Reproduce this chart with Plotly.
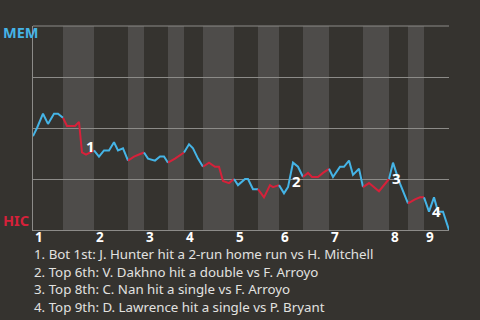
import plotly.graph_objects as go

# Game progress (x) and MEM win probability in % (y)
play_x = [0, 4, 10, 15, 21, 25, 30,
          34, 42, 46, 49, 53, 61,
          66, 71, 76, 81, 85, 90, 95,
          101, 106, 111,
          115, 122, 127, 131, 135,
          142, 151,
          156, 160, 165, 170,
          176, 182, 186, 190, 196, 201,
          205, 212, 215, 220, 225,
          231, 237, 240, 246,
          251, 255, 260, 265, 270,
          275, 279, 285, 290, 296,
          300, 307, 311, 316, 320, 326, 330,
          336, 346, 356,
          360, 366, 375,
          382, 387, 391,
          396, 401, 405, 410, 416]
mem_wp = [46, 50, 57, 52, 57, 57, 55,
          51, 51, 53, 38, 37, 39,
          36, 39, 39, 43, 39, 40, 34,
          36, 37, 38,
          35, 34, 36, 36, 33,
          35, 38,
          42, 40, 35, 31,
          33, 31, 31, 24, 23, 25,
          22, 25, 25, 20, 20,
          16, 22, 21, 22,
          18, 21, 33, 31, 26,
          28, 26, 26, 28, 30,
          26, 31, 31, 34, 27, 30, 21,
          23, 19, 25,
          33, 24, 13,
          15, 16, 16,
          9, 16, 9, 9, 0]

# half-inning boundaries (top, bottom alternating)
half_bounds = [0, 30, 61, 95, 111, 135, 151, 170, 201, 225, 246, 270, 296, 330, 356, 375, 391, 416]
inning_labels = ["1", "2", "3", "4", "5", "6", "7", "8", "9"]

# key events: (x, y, label)
event_x = [53, 260, 360, 401]
event_y = [37, 33, 33, 16]
event_labels = ["1", "2", "3", "4"]
event_xshift = [4, 3, 3, 2]
event_yshift = [9, -18, -15, -14]

notes = [
    "1. Bot 1st: J. Hunter hit a 2-run home run vs H. Mitchell",
    "2. Top 6th: V. Dakhno hit a double vs F. Arroyo",
    "3. Top 8th: C. Nan hit a single vs F. Arroyo",
    "4. Top 9th: D. Lawrence hit a single vs P. Bryant",
]

BG = "#35332f"
BAND = "#4e4c4a"
GRID = "#8c8b88"
BLUE = "#45b4e6"
RED = "#d6213a"

fig = go.Figure()

shapes = []
for i in range(len(half_bounds) - 1):
    x0, x1 = half_bounds[i], half_bounds[i + 1]
    is_bottom = i % 2 == 1
    if is_bottom:
        shapes.append(dict(type="rect", xref="x", yref="paper", x0=x0, x1=x1, y0=0, y1=1,
                           fillcolor=BAND, line_width=0, layer="below"))
    xs = [x for x in play_x if x0 <= x <= x1]
    ys = [y for x, y in zip(play_x, mem_wp) if x0 <= x <= x1]
    fig.add_trace(go.Scatter(x=xs, y=ys, mode="lines",
                             line=dict(color=RED if is_bottom else BLUE, width=2),
                             hoverinfo="skip", showlegend=False))

annotations = []
# inning labels
inning_starts = half_bounds[0:-1:2]
for xs_, lab in zip(inning_starts, inning_labels):
    annotations.append(dict(x=xs_, y=0, xref="x", yref="paper", text=f"<b>{lab}</b>",
                            showarrow=False, xanchor="left", yanchor="middle", yshift=-7,
                            font=dict(family="Noto Sans", size=13.5, color="#ffffff")))
# event labels
for ex, ey, lab, dx, dy in zip(event_x, event_y, event_labels, event_xshift, event_yshift):
    annotations.append(dict(x=ex, y=ey, xref="x", yref="y", text=f"<b>{lab}</b>",
                            showarrow=False, xanchor="center", yanchor="middle",
                            xshift=dx, yshift=dy,
                            font=dict(family="Noto Sans", size=15, color="#ffffff")))
# team labels
annotations.append(dict(x=0, y=1, xref="paper", yref="paper", text="<b>MEM</b>",
                        showarrow=False, xanchor="left", yanchor="middle", xshift=-32, yshift=-6,
                        font=dict(family="Noto Sans", size=14.5, color=BLUE)))
annotations.append(dict(x=0, y=0, xref="paper", yref="paper", text="<b>HIC</b>",
                        showarrow=False, xanchor="left", yanchor="middle", xshift=-32, yshift=10,
                        font=dict(family="Noto Sans", size=14.5, color=RED)))
# notes
for k, t in enumerate(notes):
    annotations.append(dict(x=0, y=0, xref="paper", yref="paper", text=t,
                            showarrow=False, xanchor="left", yanchor="middle",
                            xshift=-1, yshift=-24 - 17.7 * k,
                            font=dict(family="Noto Sans", size=13.3, color="#e2e2e0")))

# top gridline (100 %)
shapes.append(dict(type="line", xref="paper", yref="paper", x0=0, x1=1, y0=1, y1=1,
                   line=dict(color=GRID, width=1), layer="above"))

fig.update_layout(
    width=480, height=320, autosize=False,
    margin=dict(l=33, r=31, t=26, b=90, pad=0),
    paper_bgcolor=BG, plot_bgcolor=BG,
    shapes=shapes, annotations=annotations,
    xaxis=dict(range=[0, 416], showgrid=False, zeroline=False, showticklabels=False,
               showline=True, linecolor=GRID, linewidth=1, fixedrange=True),
    yaxis=dict(range=[0, 100], tickvals=[25, 50, 75], showgrid=True, gridcolor=GRID,
               gridwidth=1, zeroline=False, showticklabels=False,
               showline=True, linecolor=GRID, linewidth=1, fixedrange=True),
)

fig.write_html("out.html", config={"displayModeBar": False})
